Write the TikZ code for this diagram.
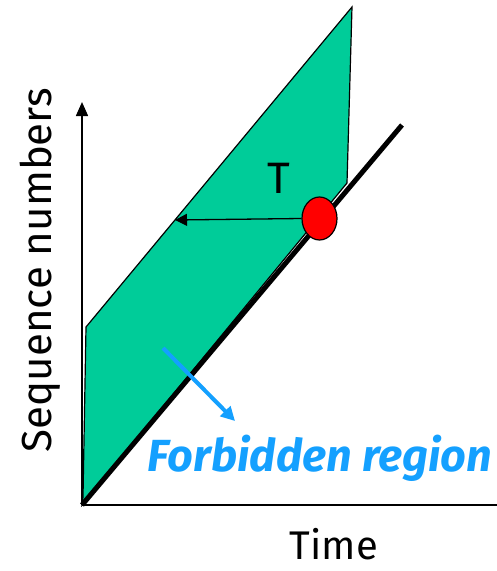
\documentclass[tikz,border=0pt]{standalone}
\usepackage{fontspec}
\setmainfont{Fira Sans}
\usetikzlibrary{arrows.meta,shapes.geometric}
\definecolor{regiongreen}{RGB}{0,204,153}
\definecolor{labelblue}{RGB}{20,160,255}
\tikzset{
  axisline/.style={line width=1.6pt},
  seqline/.style={line width=5pt},
  thinarrow/.style={line width=1.3pt,-{Triangle[length=12pt,width=12pt]}},
  bluearrow/.style={labelblue,line width=4pt,-{Triangle[length=14pt,width=14pt]}},
  lbl/.style={inner sep=0pt}
}
\begin{document}
\begin{tikzpicture}[x=1pt,y=-1pt]
\useasboundingbox (0,0) rectangle (497,571);
% green region
\coordinate (o) at (82,505);
\coordinate (bl) at (83,497);
\coordinate (ul) at (86,327);
\coordinate (top) at (352,7);
\coordinate (rb) at (347,183);
\filldraw[fill=regiongreen,draw=black,line width=1.2pt] (bl) -- (ul) -- (top) -- (rb) -- (o) -- cycle;
% axes
\coordinate (ytip) at (82,102);
\coordinate (xend) at (497,505);
\draw[axisline,-{Triangle[length=14pt,width=12pt]}] (o) -- (ytip);
\draw[axisline] (o) -- (xend);
% sequence line
\coordinate (lend) at (402,125);
\draw[seqline] (o) -- (lend);
% red dot and arrow
\node[ellipse,draw=black,fill=red,line width=1.2pt,minimum width=35pt,minimum height=43pt,inner sep=0pt] (dot) at (319.5,218.5) {};
\coordinate (tip) at (175,220);
\draw[thinarrow] (dot.west) -- (tip);
\node[lbl,font=\fontsize{44}{48}\selectfont] (T) at (279,178) {T};
% forbidden region
\coordinate (bs) at (163,348);
\coordinate (be) at (235,421);
\draw[bluearrow] (bs) -- (be);
\node[lbl,anchor=base,text=labelblue,font=\fontsize{45}{50}\selectfont\bfseries\itshape] (fr) at (320,471) {Forbidden region};
% axis labels
\node[lbl,rotate=90,font=\fontsize{42}{46}\selectfont] (seq) at (40,270) {Sequence numbers};
\node[lbl,anchor=base,font=\fontsize{40}{44}\selectfont] (time) at (334,559) {Time};
\end{tikzpicture}
\end{document}
